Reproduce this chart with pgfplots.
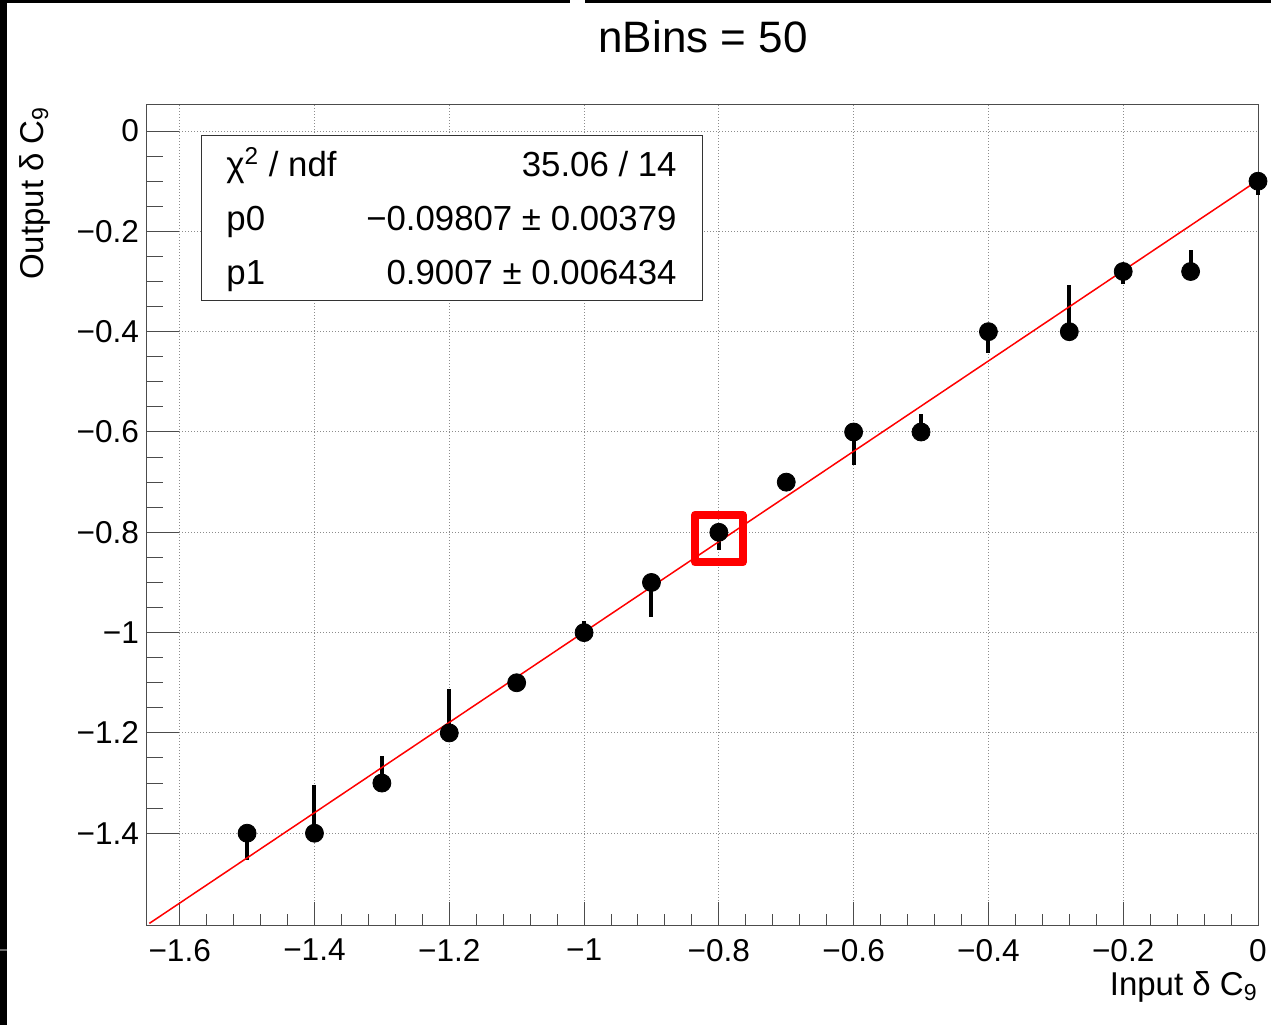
\documentclass[border=0pt]{standalone}
\usepackage{fontspec}
\setmainfont{Liberation Sans}
\usepackage{pgfplots}
\usepackage{pgfplotstable}
\pgfplotsset{compat=1.18}

% input, output, asymmetric errors (plus / minus)
\pgfplotstableread{
x     y     ep    em
-1.5  -1.4  0     0.054
-1.4  -1.4  0.096 0
-1.3  -1.3  0.054 0
-1.2  -1.2  0.088 0
-1.1  -1.1  0     0
-1.0  -1.0  0.024 0
-0.9  -0.9  0     0.068
-0.8  -0.8  0     0.036
-0.7  -0.7  0     0
-0.6  -0.6  0     0.066
-0.5  -0.6  0.036 0
-0.4  -0.4  0     0.042
-0.28 -0.4  0.093 0
-0.2  -0.28 0     0.025
-0.1  -0.28 0.043 0
0     -0.1  0     0.028
}\calib

\begin{document}
\begin{tikzpicture}
\path[use as bounding box] (0,0) rectangle (635.5pt,512.5pt);
% screenshot edges
\fill[black] (0,0) rectangle (3.5pt,512.5pt);
\fill[black] (0,511pt) rectangle (285pt,512.5pt);
\fill[black] (292.5pt,511pt) rectangle (635.5pt,512.5pt);
\fill[black!60] (0,37pt) rectangle (3.5pt,38pt);

\begin{axis}[
  at={(73pt,50pt)}, anchor=south west,
  width=556pt, height=410pt, scale only axis,
  xmin=-1.65, xmax=0, ymin=-1.583, ymax=0.052,
  xtick={-1.6,-1.4,-1.2,-1,-0.8,-0.6,-0.4,-0.2,0},
  xticklabels={−1.6,−1.4,−1.2,−1,−0.8,−0.6,−0.4,−0.2,0},
  ytick={-1.4,-1.2,-1,-0.8,-0.6,-0.4,-0.2,0},
  yticklabels={−1.4,−1.2,−1,−0.8,−0.6,−0.4,−0.2,0},
  minor x tick num=4, minor y tick num=3,
  tick align=inside, xtick pos=bottom, ytick pos=left,
  x tick style={/pgfplots/major tick length=11.5pt,/pgfplots/minor tick length=5.75pt},
  y tick style={/pgfplots/major tick length=16.5pt,/pgfplots/minor tick length=8.25pt},
  tick style={black!70, line width=0.5pt},
  axis line style={black!70, line width=0.5pt},
  grid=major,
  major grid style={black!45, line width=0.5pt, dash pattern=on 0.5pt off 1pt},
  ticklabel style={font=\fontsize{15.8}{18}\selectfont},
  xticklabel style={yshift=-3.5pt},
  clip=false,
]
\addplot+[only marks, mark=*, mark size=4.5pt, black, mark options={fill=black},
  error bars/.cd, y dir=both, y explicit, error mark=none,
  error bar style={line width=2pt, black}]
  table[x=x, y=y, y error plus=ep, y error minus=em]{\calib};
\addplot[red, line width=0.75pt] coordinates {(-1.645,-1.5798) (0,-0.09807)};
\addplot[only marks, mark=square, mark size=11.9pt,
  mark options={red, line width=4pt, line join=round}]
  coordinates {(-0.8,-0.8126)};
\end{axis}

\node[anchor=base, inner sep=0, font=\fontsize{22}{26}\selectfont] at (351.5pt,486pt) {nBins = 50};
\node[anchor=base east, inner sep=0, rotate=90, font=\fontsize{16.5}{20}\selectfont] at (21.5pt,459.5pt) {Output δ C\textsubscript{9}};
\node[anchor=base east, inner sep=0, font=\fontsize{16.5}{20}\selectfont] at (629pt,15pt) {Input δ C\textsubscript{9}};

\draw[black!80, line width=0.5pt, fill=white] (100.5pt,444.5pt) rectangle (351pt,362pt);
\begin{scope}[every node/.style={inner sep=0, font=\fontsize{17.4}{20}\selectfont}]
\node[anchor=base west] at (113pt,424pt) {χ\textsuperscript{2} / ndf};
\node[anchor=base east] at (338.5pt,424pt) {35.06 / 14};
\node[anchor=base west] at (113pt,397pt) {p0};
\node[anchor=base east] at (338.5pt,397pt) {−0.09807 ± 0.00379};
\node[anchor=base west] at (113pt,370pt) {p1};
\node[anchor=base east] at (338.5pt,370pt) {0.9007 ± 0.006434};
\end{scope}
\end{tikzpicture}
\end{document}
